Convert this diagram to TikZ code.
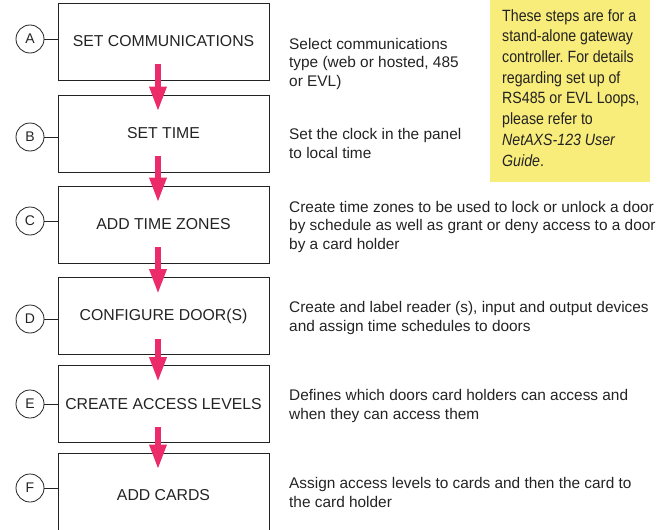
\documentclass[tikz,border=0pt]{standalone}
\usepackage{fontspec}
\setmainfont{Liberation Sans}
\newfontfamily\notefont[FakeStretch=0.87]{Liberation Sans}
\usetikzlibrary{arrows.meta}
\definecolor{flowpink}{RGB}{236,44,106}
\definecolor{noteyellow}{RGB}{248,236,122}
\definecolor{inkgray}{RGB}{35,35,35}
\frenchspacing

\begin{document}
\begin{tikzpicture}[x=1pt,y=-1pt,
  stepbox/.style={draw=inkgray,line width=0.9pt,minimum width=211pt,minimum height=77pt,inner sep=0pt,text=inkgray,font=\fontsize{15.8}{18.5}\selectfont},
  stepmark/.style={draw=inkgray,circle,line width=0.8pt,minimum size=28pt,inner sep=0pt,text=inkgray,font=\fontsize{14}{16}\selectfont},
  steptext/.style={anchor=base west,align=left,inner sep=0pt,text=inkgray,font=\fontsize{15.4}{18.5}\selectfont},
  flow/.style={flowpink,line width=6pt,-{Triangle[width=16pt,length=25pt]}}]
\clip (0,0) rectangle (670,530);

% the six steps
\node[stepbox] (stepA) at (163.5,41.5) {SET COMMUNICATIONS};
\node[stepbox] (stepB) at (163.5,133.5) {SET TIME};
\node[stepbox] (stepC) at (163.5,224.5) {ADD TIME ZONES};
\node[stepbox] (stepD) at (163.5,316) {CONFIGURE DOOR(S)};
\node[stepbox] (stepE) at (163.5,404) {CREATE ACCESS LEVELS};
\node[stepbox,minimum height=85pt] (stepF) at (163.5,495.5) {ADD CARDS};

% step letters
\node[stepmark] (markA) at (30,39) {A};
\node[stepmark] (markB) at (30,137) {B};
\node[stepmark] (markC) at (30,221) {C};
\node[stepmark] (markD) at (30,319) {D};
\node[stepmark] (markE) at (30,404) {E};
\node[stepmark] (markF) at (30,488) {F};
\draw[inkgray,line width=0.8pt] (markA.east) -- (markA.east -| stepA.west);
\draw[inkgray,line width=0.8pt] (markB.east) -- (markB.east -| stepB.west);
\draw[inkgray,line width=0.8pt] (markC.east) -- (markC.east -| stepC.west);
\draw[inkgray,line width=0.8pt] (markD.east) -- (markD.east -| stepD.west);
\draw[inkgray,line width=0.8pt] (markE.east) -- (markE.east -| stepE.west);
\draw[inkgray,line width=0.8pt] (markF.east) -- (markF.east -| stepF.west);

% arrows between the steps
\draw[flow] ([shift={(-5.5pt,16pt)}]stepA.south) -- ([shift={(-5.5pt,-17pt)}]stepB.north);
\draw[flow] ([shift={(-5.5pt,16pt)}]stepB.south) -- ([shift={(-5.5pt,-17pt)}]stepC.north);
\draw[flow] ([shift={(-5.5pt,16pt)}]stepC.south) -- ([shift={(-5.5pt,-17pt)}]stepD.north);
\draw[flow] ([shift={(-5.5pt,16pt)}]stepD.south) -- ([shift={(-5.5pt,-17pt)}]stepE.north);
\draw[flow] ([shift={(-5.5pt,16pt)}]stepE.south) -- ([shift={(-5.5pt,-17pt)}]stepF.north);

% what each step does (base = last line)
\node[steptext] (textA) at (289,86) {Select communications\\type (web or hosted, 485\\or EVL)};
\node[steptext] (textB) at (289,158) {Set the clock in the panel\\to local time};
\node[steptext] (textC) at (289,249) {Create time zones to be used to lock or unlock a door\\by schedule as well as grant or deny access to a door\\by a card holder};
\node[steptext] (textD) at (289,331) {Create and label reader (s), input and output devices\\and assign time schedules to doors};
\node[steptext] (textE) at (289,419) {Defines which doors card holders can access and\\when they can access them};
\node[steptext] (textF) at (289,507) {Assign access levels to cards and then the card to\\the card holder};

% note
\fill[noteyellow] (490,0) rectangle (650,182);
\node[anchor=base west,align=left,inner sep=0pt,text=inkgray,font=\notefont\fontsize{16.3}{20.7}\selectfont] (note) at (502,166)
  {These steps are for a\\stand-alone gateway\\controller. For details\\regarding set up of\\RS485 or EVL Loops,\\please refer to\\\textit{NetAXS-123 User}\\\textit{Guide}.};
\end{tikzpicture}
\end{document}
